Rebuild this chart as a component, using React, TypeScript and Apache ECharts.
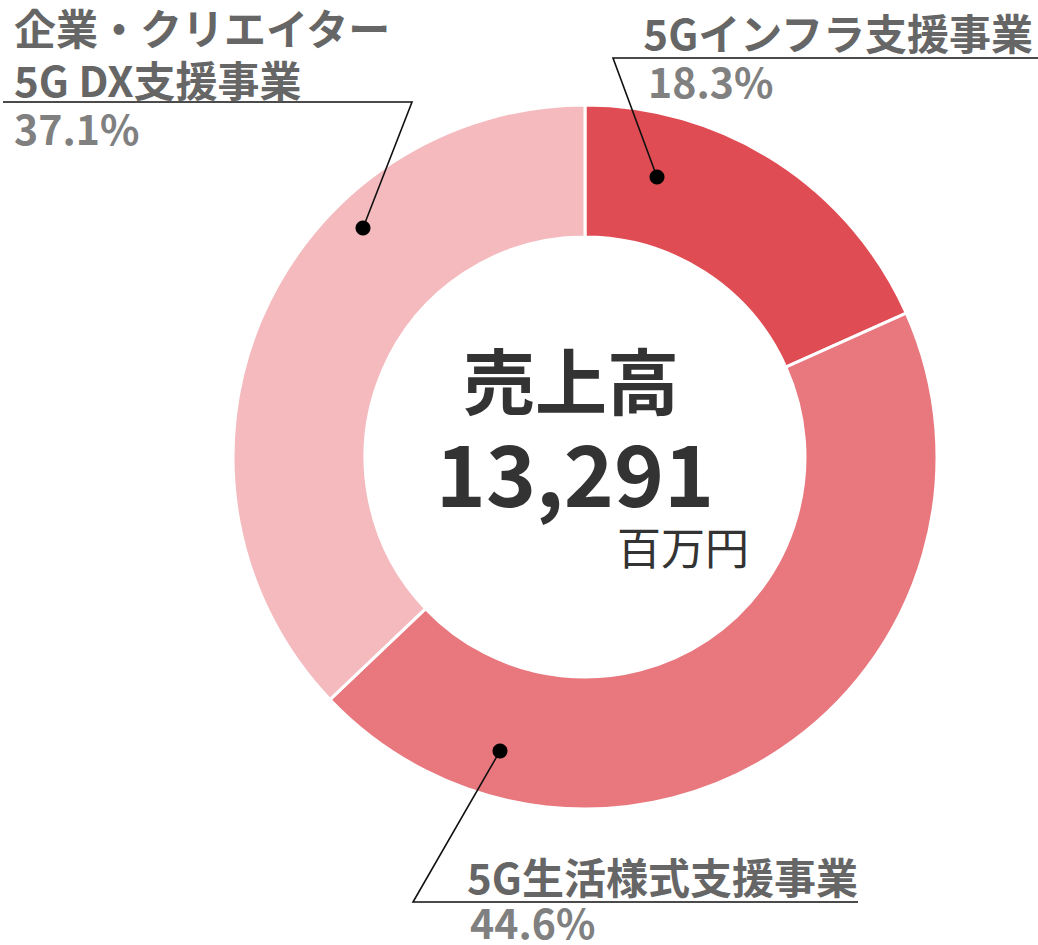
import React, { useEffect, useRef } from "react";
import * as echarts from "echarts";

const segmentNames = ["5Gインフラ支援事業", "5G生活様式支援事業", "企業・クリエイター\n5G DX支援事業"];
const segmentShares = [18.3, 44.6, 37.1];
const segmentColors = ["#e04c53", "#e8777e", "#f4babe"];
const centerTitle = "売上高";
const centerValue = "13,291";
const centerUnit = "百万円";

const FONT = "'Noto Sans CJK JP', 'Noto Sans', sans-serif";
const CX = 585;
const CY = 457;
const R_IN = 220;
const R_OUT = 352;

export default function App() {
  const ref = useRef<HTMLDivElement>(null);

  useEffect(() => {
    if (!ref.current) return;
    const chart = echarts.init(ref.current, undefined, { renderer: "svg" });

    const titleStyle = { fontFamily: FONT, fontSize: 42, lineHeight: 42, fontWeight: "bold", fill: "#666666" };
    const pctStyle = { fontFamily: FONT, fontSize: 41, lineHeight: 41, fontWeight: "bold", fill: "#808080" };
    const lineStyle = { stroke: "#111", lineWidth: 1.6, fill: "none" };
    const dotStyle = { fill: "#000" };

    const nameLines = segmentNames.map((n) => n.split("\n"));

    const graphic: any[] = [
      // center texts
      { type: "text", z: 10, x: 571, y: 377, style: { text: centerTitle, fontFamily: FONT, fontSize: 72, lineHeight: 72, fontWeight: "bold", fill: "#333333", align: "center", verticalAlign: "middle" } },
      { type: "text", z: 10, x: 575, y: 469, style: { text: centerValue, fontFamily: FONT, fontSize: 85, lineHeight: 80, fontWeight: "bold", fill: "#333333", align: "center", verticalAlign: "middle" } },
      { type: "text", z: 10, x: 749, y: 546, style: { text: centerUnit, fontFamily: FONT, fontSize: 44, lineHeight: 44, fill: "#333333", align: "right", verticalAlign: "middle" } },

      // label: 5Gインフラ支援事業
      { type: "polyline", z: 10, shape: { points: [[657, 177], [613, 58], [1038, 58]] }, style: lineStyle },
      { type: "circle", z: 11, shape: { cx: 657, cy: 177, r: 7.5 }, style: dotStyle },
      { type: "text", z: 10, x: 1033, y: 31, style: { ...titleStyle, text: nameLines[0][0], align: "right", verticalAlign: "middle" } },
      { type: "text", z: 10, x: 648, y: 80, style: { ...pctStyle, text: segmentShares[0].toFixed(1) + "%", align: "left", verticalAlign: "middle" } },

      // label: 5G生活様式支援事業
      { type: "polyline", z: 10, shape: { points: [[500, 751], [413, 902], [858, 902]] }, style: lineStyle },
      { type: "circle", z: 11, shape: { cx: 500, cy: 751, r: 7.5 }, style: dotStyle },
      { type: "text", z: 10, x: 858, y: 875, style: { ...titleStyle, text: nameLines[1][0], align: "right", verticalAlign: "middle" } },
      { type: "text", z: 10, x: 470, y: 921, style: { ...pctStyle, text: segmentShares[1].toFixed(1) + "%", align: "left", verticalAlign: "middle" } },

      // label: 企業・クリエイター 5G DX支援事業
      { type: "polyline", z: 10, shape: { points: [[363, 228], [412, 102], [3, 102]] }, style: lineStyle },
      { type: "circle", z: 11, shape: { cx: 363, cy: 228, r: 7.5 }, style: dotStyle },
      { type: "text", z: 10, x: 14, y: 26, style: { ...titleStyle, text: nameLines[2][0], align: "left", verticalAlign: "middle" } },
      { type: "text", z: 10, x: 14, y: 78, style: { ...titleStyle, text: nameLines[2][1], align: "left", verticalAlign: "middle" } },
      { type: "text", z: 10, x: 14, y: 127, style: { ...pctStyle, text: segmentShares[2].toFixed(1) + "%", align: "left", verticalAlign: "middle" } },
    ];

    chart.setOption({
      animation: false,
      backgroundColor: "#ffffff",
      series: [
        {
          type: "pie",
          z: 2,
          center: [CX, CY],
          radius: [R_IN, R_OUT],
          startAngle: 90,
          clockwise: true,
          label: { show: false },
          labelLine: { show: false },
          emphasis: { disabled: true },
          itemStyle: { borderColor: "#ffffff", borderWidth: 3 },
          data: segmentNames.map((name, i) => ({
            name,
            value: segmentShares[i],
            itemStyle: { color: segmentColors[i] },
          })),
        },
      ],
      graphic,
    });

    return () => chart.dispose();
  }, []);

  return (
    <div
      ref={ref}
      style={{ position: "fixed", left: 0, top: 0, width: 1038, height: 945 }}
    />
  );
}
